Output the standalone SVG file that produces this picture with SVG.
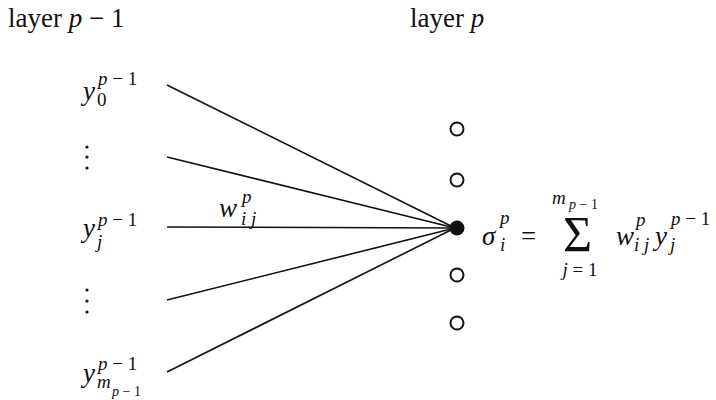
<svg xmlns="http://www.w3.org/2000/svg" width="716" height="400" viewBox="0 0 716 400">
<style>
.t{font-family:"Liberation Serif","DejaVu Serif",serif;fill:#111;font-size:27px}
.m{font-style:italic}
.s{font-size:19px}
.ss{font-size:14px}
.big{font-size:50px}
.c{fill:none;stroke:#111;stroke-width:1.6}
.n{fill:#fff;stroke:#111;stroke-width:2}
.dot{fill:#111}
</style>
<rect width="716" height="400" fill="#fff"/>
<g id="headers">
<text class="t" x="8" y="27">layer <tspan class="m">p</tspan> − 1</text>
<text class="t" x="410" y="27">layer <tspan class="m">p</tspan></text>
</g>
<g id="connectors">
<line class="c" x1="167" y1="85" x2="455" y2="228"/>
<line class="c" x1="167" y1="157" x2="455" y2="228"/>
<line class="c" x1="167" y1="227" x2="455" y2="228"/>
<line class="c" x1="167" y1="300" x2="455" y2="228"/>
<line class="c" x1="167" y1="372" x2="455" y2="228"/>
</g>
<g id="y0">
<text class="t m" x="83" y="100">y</text>
<text class="t s m" x="98" y="85">p <tspan font-style="normal">−</tspan> <tspan font-style="normal">1</tspan></text>
<text class="t s" x="97" y="106">0</text>
</g>
<g id="dots1">
<circle class="dot" cx="87" cy="147" r="1.6"/>
<circle class="dot" cx="87" cy="157" r="1.6"/>
<circle class="dot" cx="87" cy="168" r="1.6"/>
</g>
<g id="yj">
<text class="t m" x="83" y="237">y</text>
<text class="t s m" x="98" y="226">p <tspan font-style="normal">−</tspan> <tspan font-style="normal">1</tspan></text>
<text class="t s m" x="97" y="248">j</text>
</g>
<g id="dots2">
<circle class="dot" cx="87" cy="290" r="1.6"/>
<circle class="dot" cx="87" cy="301" r="1.6"/>
<circle class="dot" cx="87" cy="312" r="1.6"/>
</g>
<g id="ym">
<text class="t m" x="83" y="382">y</text>
<text class="t s m" x="98" y="370">p <tspan font-style="normal">−</tspan> <tspan font-style="normal">1</tspan></text>
<text class="t s m" x="97" y="388">m</text>
<text class="t ss m" x="112" y="396">p <tspan font-style="normal">−</tspan> <tspan font-style="normal">1</tspan></text>
</g>
<g id="weight">
<text class="t m" x="219" y="217">w</text>
<text class="t s m" x="242" y="203">p</text>
<text class="t s m" x="241" y="225">i j</text>
</g>
<g id="neurons">
<circle class="n" cx="457" cy="129" r="6.5"/>
<circle class="n" cx="457" cy="180" r="6.5"/>
<circle class="dot" cx="457" cy="228" r="7.5"/>
<circle class="n" cx="457" cy="275" r="6.5"/>
<circle class="n" cx="457" cy="323" r="6.5"/>
</g>
<g id="formula">
<text class="t m" x="482" y="245">σ</text>
<text class="t s m" x="500" y="224">p</text>
<text class="t s m" x="500" y="251">i</text>
<text class="t" x="521" y="245">=</text>
<text class="t big" x="563" y="251">Σ</text>
<text class="t s m" x="552" y="204">m</text>
<text class="t ss m" x="569" y="209">p <tspan font-style="normal">−</tspan> <tspan font-style="normal">1</tspan></text>
<text class="t s" x="580" y="276" text-anchor="middle"><tspan font-style="italic">j</tspan> = 1</text>
<text class="t m" x="616" y="245">w</text>
<text class="t s m" x="636" y="226">p</text>
<text class="t s m" x="634" y="251">i j</text>
<text class="t m" x="655" y="245">y</text>
<text class="t s m" x="671" y="225">p <tspan font-style="normal">−</tspan> <tspan font-style="normal">1</tspan></text>
<text class="t s m" x="670" y="251">j</text>
</g>
</svg>
